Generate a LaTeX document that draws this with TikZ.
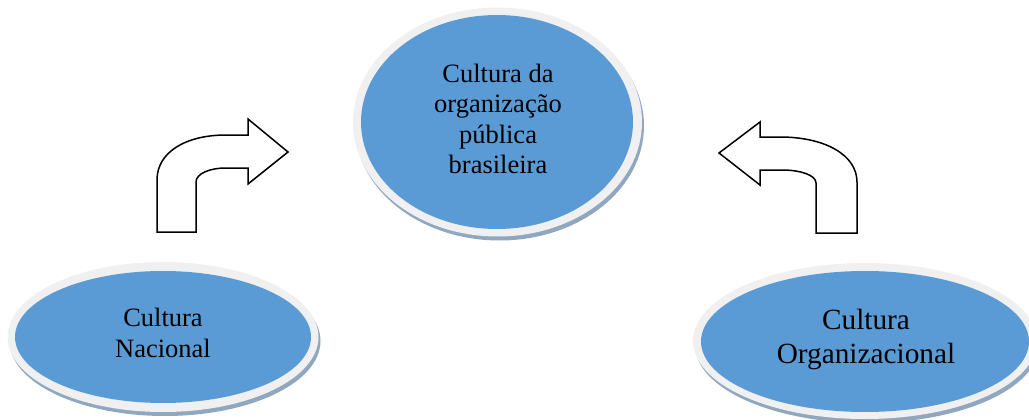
\documentclass[tikz,border=0pt]{standalone}
\usepackage{fontspec}
\setmainfont{Liberation Serif}
\usetikzlibrary{shapes.geometric}
\definecolor{blueFill}{HTML}{5B9BD5}
\definecolor{ringGrey}{HTML}{F0F0F0}
\definecolor{shadowBlue}{HTML}{8FA8C0}
\tikzset{
  x=1pt,y=-1pt,
  core/.style={ellipse,fill=blueFill,inner sep=0pt},
  ring/.style={ellipse,fill=ringGrey,inner sep=0pt},
  shade/.style={ellipse,fill=shadowBlue,inner sep=0pt},
  lbl/.style={align=center,inner sep=0pt,text=black},
  bent/.style={draw=black,line width=1.5pt,fill=white,line join=miter},
}
\begin{document}
\begin{tikzpicture}
\useasboundingbox (0,0) rectangle (1029,420);
% centre
\node[shade,minimum width=289pt,minimum height=229pt] (cs) at (499.5,126) {};
\node[ring,minimum width=289pt,minimum height=229pt] (cr) at (497.5,122) {};
\node[core,minimum width=272pt,minimum height=214pt] (c) at (497,122) {};
\node[lbl,font=\fontsize{26.5}{30.5}\selectfont,anchor=base] (ct) at (498,173.5) {Cultura da\\organização\\pública\\brasileira};
% left
\node[shade,minimum width=311pt,minimum height=150pt] (ls) at (165,341) {};
\node[ring,minimum width=311pt,minimum height=150pt] (lr) at (163,337) {};
\node[core,minimum width=296pt,minimum height=132pt] (l) at (163,337) {};
\node[lbl,font=\fontsize{26.5}{31}\selectfont,anchor=base] (lt) at (163,357) {Cultura\\Nacional};
% right
\node[shade,minimum width=344pt,minimum height=156pt] (rs) at (867,345) {};
\node[ring,minimum width=344pt,minimum height=156pt] (rr) at (865,341) {};
\node[core,minimum width=328pt,minimum height=141pt] (r) at (865,341.5) {};
\node[lbl,font=\fontsize{29.3}{34}\selectfont,anchor=base] (rt) at (866,363.5) {Cultura\\Organizacional};
% arrows
\draw[bent] (157,232) -- (157,180) .. controls (157,152) and (186,135) .. (226,135) -- (248,135)
  -- (248,119) -- (288,152) -- (248,184) -- (248,168) -- (226,168)
  .. controls (209,168) and (196,174) .. (196,182) -- (196,232) -- cycle;
\draw[bent] (857,233) -- (857,182) .. controls (857,155) and (825,137) .. (780,137) -- (760,137)
  -- (760,122) -- (719,153) -- (760,185) -- (760,170) -- (782,170)
  .. controls (800,170) and (816,175) .. (816,183) -- (816,233) -- cycle;
\end{tikzpicture}
\end{document}
